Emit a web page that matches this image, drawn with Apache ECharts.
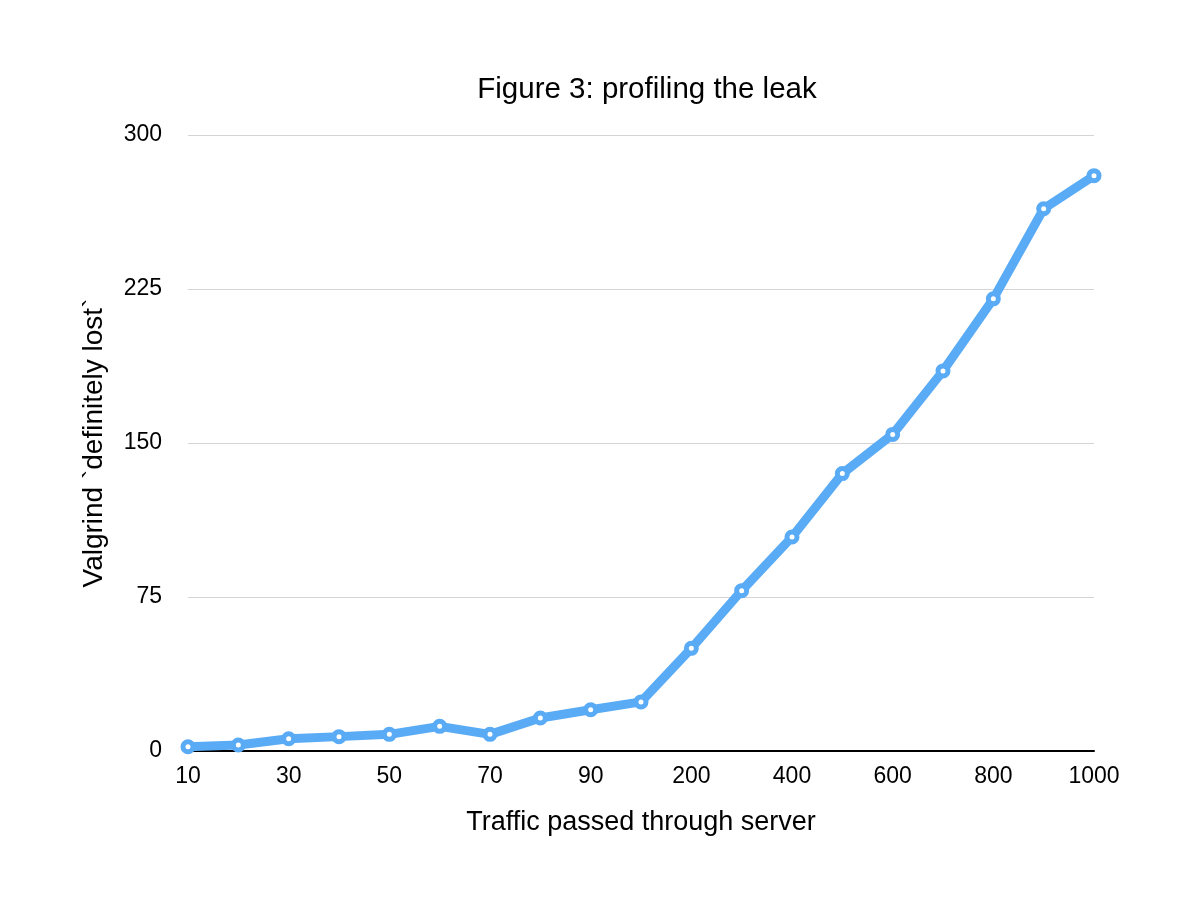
<!DOCTYPE html>
<html>
<head>
<meta charset="utf-8">
<script src="https://cdn.jsdelivr.net/npm/echarts@6/dist/echarts.min.js"></script>
<style>
html,body{margin:0;padding:0;background:#fff;}
#chart{width:1200px;height:900px;}
</style>
</head>
<body>
<div id="chart"></div>
<script>
const categories = ['10','20','30','40','50','60','70','80','90','100','200','300','400','500','600','700','800','900','1000'];
const leakValues = [2.1, 2.9, 6.0, 7.0, 8.1, 12.0, 8.1, 16.1, 20.1, 23.9, 50.0, 78.1, 104.2, 135.1, 154.2, 185.1, 220.2, 264.1, 280.2];
const yTicks = { min: 0, max: 300, interval: 75 };

const FONT = '"Liberation Sans", Arial, Helvetica, sans-serif';
const chart = echarts.init(document.getElementById('chart'));
chart.setOption({
  backgroundColor: '#ffffff',
  animation: false,
  title: {
    text: 'Figure 3: profiling the leak',
    left: 642,
    textAlign: 'center',
    top: 70,
    textStyle: { fontFamily: FONT, fontSize: 29.5, fontWeight: 'normal', color: '#000' }
  },
  grid: { left: 188, right: 106, top: 135, bottom: 149, containLabel: false },
  xAxis: {
    type: 'category',
    data: categories,
    boundaryGap: false,
    name: 'Traffic passed through server',
    nameLocation: 'middle',
    nameGap: 58,
    nameTextStyle: { fontFamily: FONT, fontSize: 27, color: '#000' },
    axisLine: { show: true, lineStyle: { color: '#000', width: 2 } },
    axisTick: { show: false },
    axisLabel: { interval: 1, margin: 14, fontFamily: FONT, fontSize: 23, color: '#000' },
    splitLine: { show: false }
  },
  yAxis: {
    type: 'value',
    min: yTicks.min,
    max: yTicks.max,
    interval: yTicks.interval,
    name: 'Valgrind `definitely lost`',
    nameLocation: 'middle',
    nameGap: 80,
    nameTextStyle: { fontFamily: FONT, fontSize: 28, color: '#000' },
    axisLine: { show: false },
    axisTick: { show: false },
    axisLabel: { margin: 26, fontFamily: FONT, fontSize: 23, color: '#000', padding: [4, 0, 0, 0] },
    splitLine: { show: true, lineStyle: { color: '#d4d4d4', width: 1 } }
  },
  series: [{
    type: 'line',
    data: leakValues,
    symbol: 'circle',
    symbolSize: 10,
    showAllSymbol: true,
    lineStyle: { color: '#5AABF5', width: 9 },
    itemStyle: { color: '#ffffff', borderColor: '#5AABF5', borderWidth: 5 },
    z: 3
  }]
});
</script>
</body>
</html>
